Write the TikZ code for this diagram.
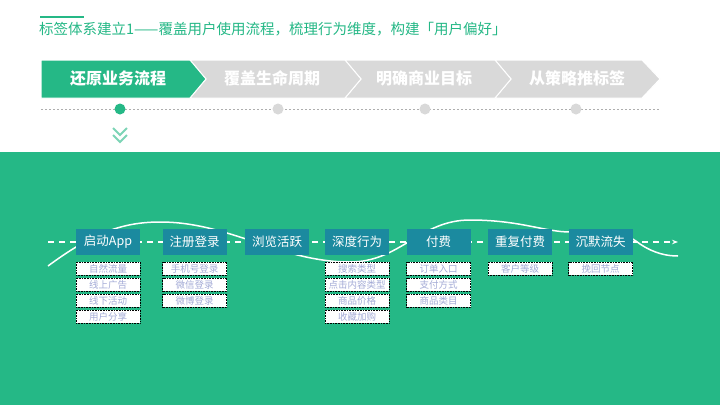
\documentclass[tikz,border=0pt]{standalone}
\usepackage{fontspec}
\setmainfont{Noto Sans CJK SC}
\usetikzlibrary{arrows.meta}
\definecolor{grn}{HTML}{25B886}
\definecolor{teal1}{HTML}{1B8A9F}
\definecolor{gry}{HTML}{D9D9D9}
\definecolor{lav}{HTML}{A3AAD6}
\tikzset{
 mainbox/.style={fill=teal1,text=white,minimum width=64pt,minimum height=26pt,inner sep=0pt,font=\fontsize{12.5}{13}\selectfont},
 subbox/.style={fill=white,draw=black,densely dotted,line width=0.6pt,minimum width=64pt,minimum height=13pt,inner sep=0pt,text=lav,font=\fontsize{9.5}{10}\selectfont},
 chev/.style={draw=white,line width=1pt},
 dot/.style={circle,minimum size=11pt,inner sep=0pt}
}
\begin{document}
\begin{tikzpicture}[x=1pt,y=-1pt]
\useasboundingbox (0,0) rectangle (720,405);
\fill[white] (0,0) rectangle (720,405);
\draw[grn,line width=1.5pt] (40,17) -- (84,17);
\node[anchor=west,text=grn,font=\fontsize{14.5}{15}\selectfont,inner sep=0pt] (title) at (39,29) {标签体系建立1——覆盖用户使用流程，梳理行为维度，构建「用户偏好」};
% chevrons
\fill[chev,fill=gry] (495,60) -- (642,60) -- (660,79) -- (642,98) -- (495,98) -- (511,79) -- cycle;
\fill[chev,fill=gry] (345,60) -- (495,60) -- (511,79) -- (495,98) -- (345,98) -- (361,79) -- cycle;
\fill[chev,fill=gry] (190,60) -- (345,60) -- (361,79) -- (345,98) -- (190,98) -- (206,79) -- cycle;
\filldraw[chev,fill=grn] (41,60) -- (190,60) -- (206,79) -- (190,98) -- (41,98) -- cycle;
\node[text=white,font=\fontsize{16}{17}\selectfont\bfseries] (c1) at (118,78) {还原业务流程};
\node[text=white,font=\fontsize{16}{17}\selectfont\bfseries] (c2) at (272,78) {覆盖生命周期};
\node[text=white,font=\fontsize{16}{17}\selectfont\bfseries] (c3) at (424,78) {明确商业目标};
\node[text=white,font=\fontsize{16}{17}\selectfont\bfseries] (c4) at (577,78) {从策略推标签};
\draw[gry!80!black,line width=0.6pt,dash pattern=on 2pt off 2pt] (41,109) -- (660,109);
\node[dot,fill=grn] (d1) at (120,109) {};
\node[dot,fill=gry] (d2) at (278,109) {};
\node[dot,fill=gry] (d3) at (425,109) {};
\node[dot,fill=gry] (d4) at (576,109) {};
\draw[grn!60,line width=1.8pt] (113,128) -- (120,135) -- (127,128) (113,135) -- (120,142) -- (127,135);
% band
\fill[grn] (0,152) rectangle (720,405);
% wave
\draw[white,line width=1.5pt] (48,266) .. controls (90,235) and (120,222) .. (160,222)
 .. controls (230,222) and (280,262) .. (350,262)
 .. controls (400,262) and (420,220) .. (470,220)
 .. controls (520,220) and (545,232) .. (570,232)
 .. controls (600,232) and (620,228) .. (640,244)
 .. controls (655,254) and (668,256) .. (678,256);
\coordinate (fs) at (48,242);
\coordinate (fe) at (678,242);
\draw[white,line width=1.5pt,dash pattern=on 6pt off 5pt,-{Stealth[length=6pt]}] (fs) -- (fe);
\foreach \n/\x/\t in {a/108/启动App,b/194.5/注册登录,c/277/浏览活跃,d/357/深度行为,e/438.5/付费,f/520/重复付费,g/600.5/沉默流失}
  \node[mainbox] (\n) at (\x,242) {\t};
\foreach \n/\i/\t in {a/1/自然流量,a/2/线上广告,a/3/线下活动,a/4/用户分享,b/1/手机号登录,b/2/微信登录,b/3/微博登录,d/1/搜索类型,d/2/点击内容类型,d/3/商品价格,d/4/收藏加购,e/1/订单入口,e/2/支付方式,e/3/商品类目,f/1/客户等级,g/1/挽回节点}
  \node[subbox] (\n\i) at ([yshift=-(7+16*(\i-1))*1pt-6.5pt]\n.south) {\t};
\end{tikzpicture}
\end{document}
